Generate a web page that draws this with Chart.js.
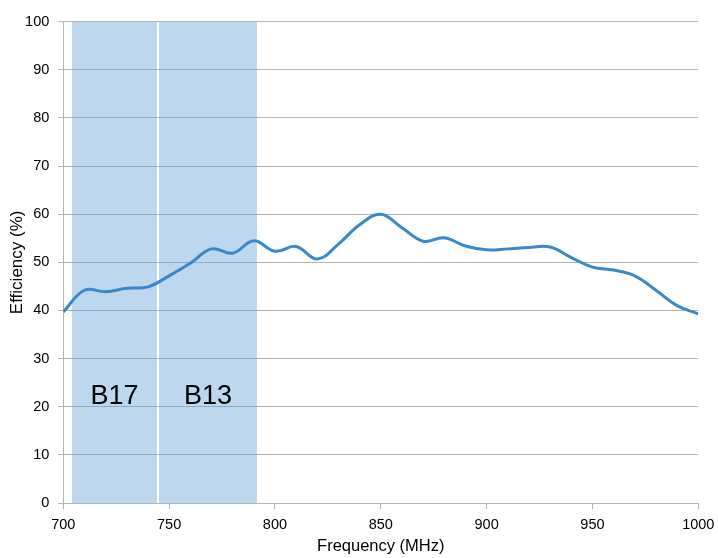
<!DOCTYPE html>
<html lang="en">
<head>
    <meta charset="UTF-8">
    <title>Efficiency vs Frequency</title>
    <script src="https://cdn.jsdelivr.net/npm/chart.js"></script>
    <style>
        body { margin: 0; background: #fff; }
        .wrap { width: 718px; height: 558px; position: relative; }
    </style>
</head>
<body>
    <div class="wrap">
        <canvas id="effChart"></canvas>
    </div>

    <script>
        // measured efficiency, every 10 MHz
        const freqs = [700, 710, 720, 730, 740, 750, 760, 770, 780, 790,
                       800, 810, 820, 830, 840, 850, 860, 870, 880, 890,
                       900, 910, 920, 930, 940, 950, 960, 970, 980, 990, 1000];
        const efficiency = [39.7, 44.2, 43.9, 44.6, 44.9, 47.2, 49.8, 52.8, 51.9, 54.5,
                            52.3, 53.3, 50.7, 53.8, 57.8, 60.0, 57.2, 54.4, 55.1, 53.4,
                            52.6, 52.8, 53.1, 53.2, 51.0, 49.0, 48.4, 47.2, 44.2, 41.0, 39.3];

        // LTE bands shown as shaded columns
        const bandNames = ['B17', 'B13'];
        const bandStart = [704, 745.2];
        const bandEnd = [744.3, 791.5];
        const bandLabelY = 22.2;

        const xTicks = [700, 750, 800, 850, 900, 950, 1000];

        const gridColor = '#b4b4b4';
        const fontFamily = '"Liberation Sans", Arial, sans-serif';

        const datasets = [{
            label: 'Efficiency',
            data: freqs.map((f, i) => ({ x: f, y: efficiency[i] })),
            borderColor: '#3a87c9',
            borderWidth: 3,
            pointRadius: 0,
            tension: 0.4,
            fill: false,
            order: 0
        }];

        bandNames.forEach((name, i) => {
            datasets.push({
                label: name,
                data: [{ x: bandStart[i], y: 100 }, { x: bandEnd[i], y: 100 }],
                borderWidth: 0,
                borderColor: 'rgba(0,0,0,0)',
                backgroundColor: 'rgba(91,155,213,0.4)',
                pointRadius: 0,
                fill: 'origin',
                order: 1
            });
        });

        // band names in the middle of each shaded column
        const bandLabels = {
            id: 'bandLabels',
            afterDatasetsDraw(chart) {
                const ctx = chart.ctx;
                const x = chart.scales.x;
                const y = chart.scales.y;
                ctx.save();
                ctx.fillStyle = '#000';
                ctx.font = '27px ' + fontFamily;
                ctx.textAlign = 'center';
                ctx.textBaseline = 'middle';
                bandNames.forEach((name, i) => {
                    const cx = x.getPixelForValue((bandStart[i] + bandEnd[i]) / 2);
                    ctx.fillText(name, cx, y.getPixelForValue(bandLabelY));
                });
                ctx.restore();
            }
        };

        new Chart(document.getElementById('effChart'), {
            type: 'line',
            data: { datasets: datasets },
            plugins: [bandLabels],
            options: {
                responsive: true,
                maintainAspectRatio: false,
                animation: false,
                layout: { padding: { top: 21.7, right: 19.7, left: 0, bottom: 0 } },
                plugins: {
                    legend: { display: false },
                    tooltip: { enabled: false }
                },
                scales: {
                    x: {
                        type: 'linear',
                        min: 700,
                        max: 1000,
                        afterBuildTicks: (scale) => { scale.ticks = xTicks.map(v => ({ value: v })); },
                        afterFit: (scale) => {
                            scale.height = 55;
                            scale.paddingRight = 0;
                            scale.paddingLeft = 0;
                        },
                        grid: {
                            drawOnChartArea: false,
                            color: gridColor,
                            tickLength: 6
                        },
                        border: { color: gridColor },
                        ticks: {
                            color: '#000',
                            padding: 7,
                            maxRotation: 0,
                            callback: (v) => String(v),
                            font: { family: fontFamily, size: 14.5 }
                        },
                        title: {
                            display: true,
                            text: 'Frequency (MHz)',
                            color: '#000',
                            padding: { top: 0, bottom: 2 },
                            font: { family: fontFamily, size: 16.5 }
                        }
                    },
                    y: {
                        min: 0,
                        max: 100,
                        afterFit: (scale) => { scale.width = 63.3; },
                        grid: {
                            color: gridColor,
                            tickLength: 5
                        },
                        border: { color: gridColor },
                        ticks: {
                            stepSize: 10,
                            color: '#000',
                            padding: 9,
                            font: { family: fontFamily, size: 14.5 }
                        },
                        title: {
                            display: true,
                            text: 'Efficiency (%)',
                            color: '#000',
                            padding: { top: 7, bottom: 0 },
                            font: { family: fontFamily, size: 17 }
                        }
                    }
                }
            }
        });
    </script>
</body>
</html>
